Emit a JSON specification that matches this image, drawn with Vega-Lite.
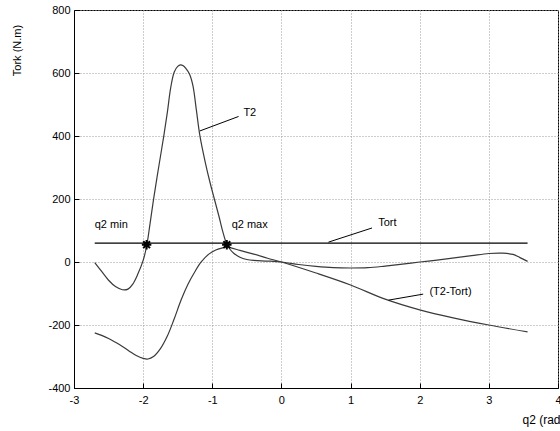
{
  "$schema": "https://vega.github.io/schema/vega-lite/v6.json",
  "width": 484,
  "height": 378,
  "autosize": {"type": "none"},
  "padding": {"left": 74, "top": 10, "right": 2, "bottom": 43},
  "background": "#ffffff",
  "config": {
    "view": {"stroke": "#000000", "strokeWidth": 1},
    "font": "Liberation Sans",
    "axis": {
      "labelFont": "Liberation Sans",
      "labelFontSize": 11,
      "labelColor": "#000000",
      "titleFont": "Liberation Sans",
      "titleFontSize": 11,
      "titleFontWeight": "normal",
      "titleColor": "#000000",
      "domainColor": "#000000",
      "tickColor": "#000000",
      "gridColor": "#9a9a9a",
      "gridDash": [1, 2],
      "gridWidth": 1,
      "labelExpr": "replace(datum.label, '−', '-')"
    }
  },
  "datasets": {
    "t2": [
      {"q": -2.70, "v": -2}, {"q": -2.6, "v": -30}, {"q": -2.5, "v": -58}, {"q": -2.4, "v": -78},
      {"q": -2.3, "v": -88}, {"q": -2.22, "v": -86}, {"q": -2.15, "v": -70}, {"q": -2.08, "v": -40},
      {"q": -2.0, "v": 5}, {"q": -1.95, "v": 50}, {"q": -1.9, "v": 122}, {"q": -1.85, "v": 198},
      {"q": -1.8, "v": 268}, {"q": -1.75, "v": 335}, {"q": -1.7, "v": 402}, {"q": -1.65, "v": 475},
      {"q": -1.6, "v": 555}, {"q": -1.55, "v": 603}, {"q": -1.5, "v": 621}, {"q": -1.46, "v": 626},
      {"q": -1.42, "v": 623}, {"q": -1.38, "v": 614}, {"q": -1.33, "v": 597}, {"q": -1.28, "v": 560},
      {"q": -1.23, "v": 482}, {"q": -1.18, "v": 402}, {"q": -1.1, "v": 315}, {"q": -1.03, "v": 250},
      {"q": -0.97, "v": 200}, {"q": -0.9, "v": 142}, {"q": -0.85, "v": 98}, {"q": -0.8, "v": 62},
      {"q": -0.75, "v": 42}, {"q": -0.69, "v": 28}, {"q": -0.6, "v": 15}, {"q": -0.5, "v": 8},
      {"q": -0.4, "v": 5}, {"q": -0.2, "v": 3}, {"q": 0.0, "v": 0}, {"q": 0.25, "v": -8},
      {"q": 0.5, "v": -14}, {"q": 0.75, "v": -18}, {"q": 1.0, "v": -19}, {"q": 1.25, "v": -18},
      {"q": 1.5, "v": -13}, {"q": 1.75, "v": -7}, {"q": 2.0, "v": 0}, {"q": 2.25, "v": 6},
      {"q": 2.5, "v": 13}, {"q": 2.75, "v": 20}, {"q": 3.0, "v": 27}, {"q": 3.2, "v": 28},
      {"q": 3.35, "v": 24}, {"q": 3.45, "v": 14}, {"q": 3.56, "v": 2}
    ],
    "diff": [
      {"q": -2.70, "v": -225}, {"q": -2.6, "v": -233}, {"q": -2.5, "v": -243}, {"q": -2.4, "v": -255},
      {"q": -2.3, "v": -268}, {"q": -2.2, "v": -283}, {"q": -2.1, "v": -297},
      {"q": -2.0, "v": -306}, {"q": -1.93, "v": -308}, {"q": -1.85, "v": -300}, {"q": -1.75, "v": -275},
      {"q": -1.65, "v": -235}, {"q": -1.55, "v": -180}, {"q": -1.45, "v": -120}, {"q": -1.35, "v": -70},
      {"q": -1.25, "v": -30}, {"q": -1.16, "v": 0}, {"q": -1.05, "v": 25}, {"q": -0.95, "v": 38},
      {"q": -0.85, "v": 45}, {"q": -0.79, "v": 47}, {"q": -0.6, "v": 37}, {"q": -0.4, "v": 25},
      {"q": -0.2, "v": 12}, {"q": 0.0, "v": 0}, {"q": 0.5, "v": -35}, {"q": 1.0, "v": -73},
      {"q": 1.5, "v": -118}, {"q": 2.0, "v": -152}, {"q": 2.5, "v": -178}, {"q": 3.0, "v": -200},
      {"q": 3.56, "v": -222}
    ],
    "tort": [{"q": -2.70, "v": 60}, {"q": 3.56, "v": 60}],
    "stars": [{"q": -1.95, "v": 55}, {"q": -0.79, "v": 55}],
    "leaders": [
      {"q": -1.18, "v": 416, "q2": -0.62, "v2": 462},
      {"q": 0.68, "v": 63, "q2": 1.31, "v2": 108},
      {"q": 1.55, "v": -121, "q2": 2.05, "v2": -102}
    ],
    "labels": [
      {"q": -0.55, "v": 473, "t": "T2"},
      {"q": 1.40, "v": 124, "t": "Tort"},
      {"q": 2.14, "v": -95, "t": "(T2-Tort)"},
      {"q": -2.70, "v": 117, "t": "q2 min"},
      {"q": -0.72, "v": 117, "t": "q2 max"}
    ]
  },
  "layer": [
    {
      "data": {"name": "t2"},
      "mark": {"type": "line", "color": "#3a3a3a", "strokeWidth": 1.2, "interpolate": "catmull-rom"},
      "encoding": {
        "x": {"field": "q", "type": "quantitative",
          "scale": {"domain": [-3, 4], "nice": false, "zero": false},
          "axis": {"values": [-3, -2, -1, 0, 1, 2, 3, 4], "format": "d", "grid": true, "tickSize": -5, "labelPadding": 11,
            "title": "q2 (rad)", "titleFontSize": 12, "titleAnchor": null, "titleX": 448, "titleY": 31, "titleAlign": "left", "titleBaseline": "middle",
            "labelFlush": false}},
        "y": {"field": "v", "type": "quantitative",
          "scale": {"domain": [-400, 800], "nice": false, "zero": false},
          "axis": {"values": [-400, -200, 0, 200, 400, 600, 800], "format": "d", "grid": true, "tickSize": -5, "labelPadding": 9,
            "title": "Tork (N.m)", "titleAnchor": null, "titleX": -57, "titleY": 40, "titleAngle": -90,
            "titleAlign": "center", "titleBaseline": "middle"}}
      }
    },
    {
      "data": {"name": "diff"},
      "mark": {"type": "line", "color": "#3a3a3a", "strokeWidth": 1.2, "interpolate": "catmull-rom"},
      "encoding": {
        "x": {"field": "q", "type": "quantitative"},
        "y": {"field": "v", "type": "quantitative"}
      }
    },
    {
      "data": {"name": "tort"},
      "mark": {"type": "line", "color": "#000000", "strokeWidth": 1.3},
      "encoding": {
        "x": {"field": "q", "type": "quantitative"},
        "y": {"field": "v", "type": "quantitative"}
      }
    },
    {
      "data": {"name": "leaders"},
      "mark": {"type": "rule", "color": "#000000", "strokeWidth": 1},
      "encoding": {
        "x": {"field": "q", "type": "quantitative"},
        "y": {"field": "v", "type": "quantitative"},
        "x2": {"field": "q2"},
        "y2": {"field": "v2"}
      }
    },
    {
      "data": {"name": "stars"},
      "mark": {"type": "point", "shape": "M0,-1L0,1M-1,0L1,0M-0.72,-0.72L0.72,0.72M-0.72,0.72L0.72,-0.72",
        "size": 90, "stroke": "#000000", "strokeWidth": 2, "filled": false, "opacity": 1},
      "encoding": {
        "x": {"field": "q", "type": "quantitative"},
        "y": {"field": "v", "type": "quantitative"}
      }
    },
    {
      "data": {"name": "labels"},
      "mark": {"type": "text", "align": "left", "baseline": "middle", "fontSize": 11, "font": "Liberation Sans", "color": "#000000"},
      "encoding": {
        "x": {"field": "q", "type": "quantitative"},
        "y": {"field": "v", "type": "quantitative"},
        "text": {"field": "t"}
      }
    }
  ]
}
